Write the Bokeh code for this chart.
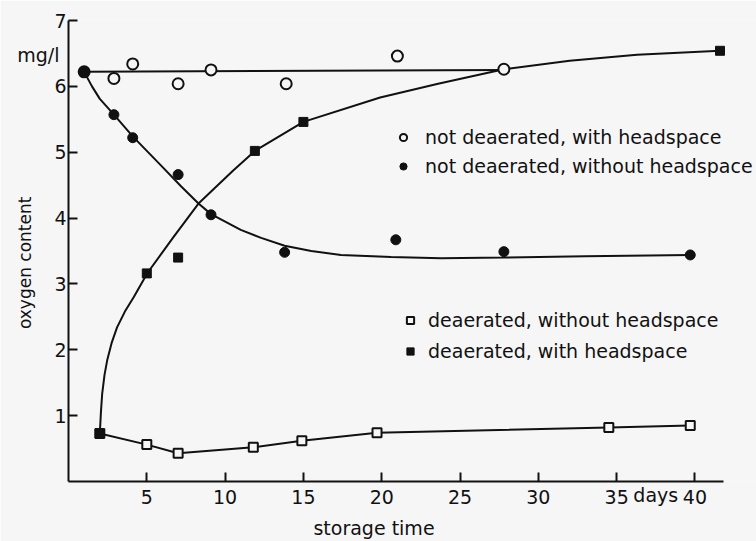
from bokeh.plotting import figure
from bokeh.models import FixedTicker, Legend, LegendItem, Range1d, LinearAxis
from bokeh.embed import file_html
from bokeh.resources import INLINE

# ---- measured values (storage time in days, oxygen content in mg/l) ----
days_nd_hs = [1.0, 2.9, 4.1, 7.0, 9.1, 13.9, 21.0, 27.8]
o2_nd_hs = [6.22, 6.12, 6.34, 6.04, 6.25, 6.04, 6.46, 6.26]

days_nd_nohs = [1.0, 2.9, 4.1, 7.0, 9.1, 13.8, 20.9, 27.8, 39.7]
o2_nd_nohs = [6.22, 5.57, 5.22, 4.66, 4.05, 3.48, 3.67, 3.49, 3.44]

days_d_nohs = [2.0, 5.0, 7.0, 11.8, 14.9, 19.7, 34.5, 39.7]
o2_d_nohs = [0.73, 0.56, 0.43, 0.52, 0.62, 0.74, 0.82, 0.85]

days_d_hs = [2.0, 5.0, 7.0, 11.9, 15.0, 41.6]
o2_d_hs = [0.73, 3.16, 3.40, 5.02, 5.46, 6.54]

# ---- hand-drawn fit curves ----
fit_nd_hs_days = [1.0, 27.8]
fit_nd_hs_o2 = [6.22, 6.25]

fit_nd_nohs_days = [1.0, 1.5, 2.0, 2.9, 4.1, 5.9, 7.2, 8.3, 9.1, 11.0, 12.3, 13.8, 15.5, 17.4, 20.6, 23.8, 27.8, 33.0, 39.7]
fit_nd_nohs_o2 = [6.22, 6.00, 5.81, 5.57, 5.24, 4.80, 4.48, 4.22, 4.06, 3.82, 3.70, 3.58, 3.50, 3.44, 3.41, 3.39, 3.40, 3.42, 3.44]

fit_d_hs_days = [2.0, 2.07, 2.15, 2.3, 2.47, 2.75, 3.1, 3.6, 4.17, 5.05, 6.7, 8.3, 10.5, 11.9, 15.0, 19.9, 23.6, 27.8, 32.0, 36.3, 41.6]
fit_d_hs_o2 = [0.73, 1.05, 1.33, 1.62, 1.84, 2.10, 2.34, 2.58, 2.80, 3.17, 3.71, 4.22, 4.72, 5.02, 5.46, 5.83, 6.04, 6.26, 6.39, 6.48, 6.54]

x_ticks = [5, 10, 15, 20, 25, 30, 35, 40]
y_ticks = [1, 2, 3, 4, 5, 6, 7]

labels_top = ["not deaerated, with headspace", "not deaerated, without headspace"]
labels_bottom = ["deaerated, without headspace", "deaerated, with headspace"]

x_title = "storage  time"
x_unit = "days"
y_title = "oxygen content"
y_unit = "mg/l"
# where the reference places these texts along its axes
x_title_at = 19.7
x_unit_at = 37.5
y_title_at = 3.32
y_unit_at = 6.48

FONT = "DejaVu Sans"
BG = "#f6f6f6"
INK = "#111111"

p = figure(width=756, height=541, output_backend="svg", toolbar_location=None,
           x_range=Range1d(0, 43.93), y_range=Range1d(0, 7),
           min_border_left=68, min_border_right=0, min_border_top=20, min_border_bottom=60,
           background_fill_color=BG, border_fill_color=BG, outline_line_color=None)
p.grid.visible = False

for ax in (p.xaxis[0], p.yaxis[0]):
    ax.axis_line_width = 2
    ax.axis_line_color = INK
    ax.major_tick_in = 9
    ax.major_tick_out = 0
    ax.minor_tick_in = 0
    ax.minor_tick_out = 0
    ax.major_tick_line_width = 2
    ax.major_tick_line_color = INK
    ax.major_label_text_font = FONT
    ax.major_label_text_font_size = "19px"
    ax.major_label_text_color = INK
p.xaxis[0].ticker = FixedTicker(ticks=x_ticks)
p.yaxis[0].ticker = FixedTicker(ticks=y_ticks)
p.xaxis[0].bounds = (0, 41.8)
p.yaxis[0].bounds = (0, 7)
p.xaxis[0].major_label_standoff = 8
p.yaxis[0].major_label_standoff = 2


def text_axis(tick, text, standoff, size, orientation="horizontal"):
    return LinearAxis(ticker=FixedTicker(ticks=[tick]),
                      major_label_overrides={tick: text},
                      axis_line_color=None, major_tick_line_color=None,
                      minor_tick_line_color=None, major_tick_in=0, major_tick_out=0,
                      minor_tick_in=0, minor_tick_out=0,
                      major_label_standoff=standoff,
                      major_label_orientation=orientation,
                      major_label_text_font=FONT, major_label_text_font_size=size,
                      major_label_text_color=INK)

p.add_layout(text_axis(x_unit_at, x_unit, -23, "19px"), "below")
p.add_layout(text_axis(x_title_at, x_title, 8, "19px"), "below")
p.add_layout(text_axis(y_unit_at, y_unit, -8, "19px"), "left")
p.add_layout(text_axis(y_title_at, y_title, -21, "17px", "vertical"), "left")

# curves
p.line(fit_nd_hs_days, fit_nd_hs_o2, line_color=INK, line_width=2)
p.line(fit_nd_nohs_days, fit_nd_nohs_o2, line_color=INK, line_width=2)
p.line(fit_d_hs_days, fit_d_hs_o2, line_color=INK, line_width=2)
p.line(days_d_nohs, o2_d_nohs, line_color=INK, line_width=2)

# markers
r_oc = p.scatter(days_nd_hs, o2_nd_hs, marker="circle", size=11, fill_color=BG,
                 line_color=INK, line_width=2)
r_fc = p.scatter(days_nd_nohs, o2_nd_nohs, marker="circle", size=10, fill_color=INK,
                 line_color=INK, line_width=1)
r_os = p.scatter(days_d_nohs, o2_d_nohs, marker="square", size=9, fill_color=BG,
                 line_color=INK, line_width=2)
r_fs = p.scatter(days_d_hs, o2_d_hs, marker="square", size=9, fill_color=INK,
                 line_color=INK, line_width=1)


def make_legend(items, loc, spacing, standoff):
    return Legend(items=items, location=loc, orientation="vertical",
                  border_line_color=None, background_fill_alpha=0,
                  padding=0, margin=0, spacing=spacing,
                  glyph_width=18, glyph_height=20, label_height=20,
                  label_standoff=standoff,
                  label_text_font=FONT, label_text_font_size="19px",
                  label_text_color=INK)

leg1 = make_legend([LegendItem(label=labels_top[0], renderers=[r_oc]),
                    LegendItem(label=labels_top[1], renderers=[r_fc])],
                   (326, 304), 7, 13)
leg2 = make_legend([LegendItem(label=labels_bottom[0], renderers=[r_os]),
                    LegendItem(label=labels_bottom[1], renderers=[r_fs])],
                   (333, 119), 9, 9)
p.add_layout(leg1)
p.add_layout(leg2)

open("out.html", "w").write(file_html(p, INLINE))
